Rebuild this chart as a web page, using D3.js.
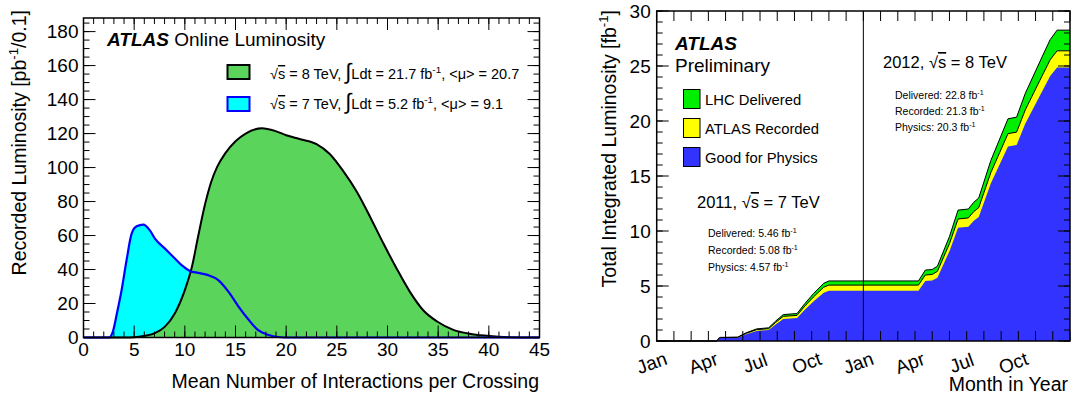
<!DOCTYPE html>
<html>
<head>
<meta charset="utf-8">
<script src="https://cdn.jsdelivr.net/npm/d3@7"></script>
<style>
  body { margin: 0; background: #fff; }
  svg { font-family: "Liberation Sans", Arial, Helvetica, sans-serif; }
</style>
</head>
<body>
<script>
// ---- left panel: recorded luminosity vs <mu> ----
var mu8  = [0, 4.5, 5.5, 6.06, 7.05, 8.04, 9.02, 10.0, 10.7, 11.3, 12.0, 12.6, 13.2, 14.0, 15.0, 16.0, 17.6, 18.9, 20.0, 21.4, 23.0, 24.3, 25.6, 27.0, 28.3, 29.6, 30.9, 32.2, 33.5, 34.9, 36.5, 38.1, 39.8, 42, 45];
var lum8 = [0, 0, 0.4, 1, 2.6, 6.4, 14.3, 27.9, 41.6, 59.1, 78.5, 91.5, 100.5, 108.5, 115.5, 120, 123.2, 121.6, 119, 116.7, 113.8, 108, 98.2, 85.5, 70.8, 55.3, 40.6, 27, 16.2, 9.4, 4.5, 2.2, 1, 0.2, 0];
var mu7  = [0, 2.5, 2.9, 3.3, 3.76, 4.25, 4.75, 5.24, 5.9, 6.55, 7.05, 8.04, 9.02, 9.68, 10.5, 11.3, 12.3, 13.3, 14.3, 15.3, 16.3, 17.2, 18.2, 19.2, 20.5, 45];
var lum7 = [0, 0, 3.5, 14.3, 27.9, 45.5, 61.1, 65.4, 66.4, 63, 58.2, 52.3, 46.5, 42.6, 39.2, 38, 36.7, 33.8, 27, 18.2, 10.4, 4.5, 1.6, 0.3, 0, 0];
var muTicks  = [0, 5, 10, 15, 20, 25, 30, 35, 40, 45];
var lumTicks = [0, 20, 40, 60, 80, 100, 120, 140, 160, 180];

// ---- right panel: cumulative luminosity, months since Jan 2011 ----
var months    = [0, 3.5, 3.6, 3.7, 4.7, 5.2, 5.8, 6.5, 6.9, 7.35, 8.15, 8.6, 9.1, 9.7, 10.0, 15.2, 15.6, 16.0, 16.3, 17.0, 17.5, 18.1, 18.4, 18.7, 19.4, 20.4, 20.9, 21.4, 22.4, 22.85, 23.25, 24];
var delivered = [0, 0, 0.25, 0.33, 0.35, 0.75, 1.1, 1.2, 1.8, 2.4, 2.5, 3.4, 4.3, 5.25, 5.46, 5.46, 6.45, 6.5, 6.8, 9.5, 11.9, 12.0, 12.6, 13.0, 16.4, 20.2, 20.35, 22.5, 25.9, 27.4, 28.26, 28.26];
var recorded  = [0, 0, 0.23, 0.31, 0.33, 0.7, 1.03, 1.12, 1.68, 2.24, 2.33, 3.17, 4.0, 4.89, 5.08, 5.08, 6.0, 6.05, 6.33, 8.85, 11.09, 11.19, 11.75, 12.12, 15.3, 18.85, 18.99, 21.0, 24.17, 25.57, 26.38, 26.38];
var physics   = [0, 0, 0.2, 0.27, 0.29, 0.62, 0.92, 1.0, 1.5, 2.0, 2.09, 2.84, 3.6, 4.39, 4.57, 4.57, 5.45, 5.5, 5.76, 8.17, 10.3, 10.39, 10.92, 11.28, 14.31, 17.69, 17.82, 19.74, 22.76, 24.1, 24.87, 24.87];
var monthLabels = ["Jan", "Apr", "Jul", "Oct", "Jan", "Apr", "Jul", "Oct"];
var monthLabelPos = [0, 3, 6, 9, 12, 15, 18, 21];
var intTicks = [0, 5, 10, 15, 20, 25, 30];

var svg = d3.select("body").append("svg")
	.attr("width", 1073)
	.attr("height", 398);

// rich text helper: parts = [{t, sup, fs, style, over}]
function rich(sel, x, y, parts, size, anchor) {
	var t = sel.append("text")
		.attr("x", x).attr("y", y)
		.attr("font-size", size)
		.attr("text-anchor", anchor || "start");
	var shift = 0;
	parts.forEach(function(p) {
		var ts = t.append("tspan").text(p.t);
		var target = p.sup ? -size * 0.42 : 0;
		if (target !== shift) { ts.attr("dy", target - shift); shift = target; }
		if (p.sup) ts.attr("font-size", size * 0.68);
		if (p.fs) ts.attr("font-size", p.fs);
		if (p.style) ts.attr("style", p.style);
		if (p.over) ts.style("text-decoration", "overline");
	});
	return t;
}

// ROOT-like frame with ticks on all four sides
function ticksAll(g, scale, vals, len, orient, w, h) {
	vals.forEach(function(v) {
		var p = scale(v);
		if (orient === "x") {
			g.append("line").attr("x1", p).attr("x2", p).attr("y1", h).attr("y2", h - len);
			g.append("line").attr("x1", p).attr("x2", p).attr("y1", 0).attr("y2", len);
		} else {
			g.append("line").attr("y1", p).attr("y2", p).attr("x1", 0).attr("x2", len);
			g.append("line").attr("y1", p).attr("y2", p).attr("x1", w).attr("x2", w - len);
		}
	});
}

// ================= LEFT =================
var L = { left: 83.5, top: 18, width: 456, height: 319.5 };
var gl = svg.append("g").attr("transform", "translate(" + L.left + "," + L.top + ")");
var xL = d3.scaleLinear().domain([0, 45]).range([0, L.width]);
var yL = d3.scaleLinear().domain([0, 188]).range([L.height, 0]);

var d8 = mu8.map(function(m, i) { return [m, lum8[i]]; });
var d7 = mu7.map(function(m, i) { return [m, lum7[i]]; });

var areaL = d3.area().curve(d3.curveMonotoneX)
	.x(function(d) { return xL(d[0]); })
	.y0(yL(0))
	.y1(function(d) { return yL(d[1]); });
var lineL = d3.line().curve(d3.curveMonotoneX)
	.x(function(d) { return xL(d[0]); })
	.y(function(d) { return yL(d[1]); });

gl.append("path").attr("d", areaL(d7)).attr("fill", "#00ffff");
gl.append("path").attr("d", areaL(d8)).attr("fill", "#5ad45a");
gl.append("path").attr("d", lineL(d8)).attr("fill", "none").attr("stroke", "#000").attr("stroke-width", 2);
gl.append("path").attr("d", lineL(d7)).attr("fill", "none").attr("stroke", "#0000ff").attr("stroke-width", 2.2);

var tkL = gl.append("g").attr("stroke", "#000").attr("stroke-width", 1);
ticksAll(tkL, xL, d3.range(0, 46, 1), 6, "x", L.width, L.height);
ticksAll(tkL, xL, muTicks, 12, "x", L.width, L.height);
ticksAll(tkL, yL, d3.range(0, 188, 5), 6, "y", L.width, L.height);
ticksAll(tkL, yL, lumTicks, 12, "y", L.width, L.height);
gl.append("rect").attr("width", L.width).attr("height", L.height)
	.attr("fill", "none").attr("stroke", "#000").attr("stroke-width", 1.5);

gl.selectAll(".xl").data(muTicks).enter().append("text")
	.attr("x", function(d) { return xL(d); }).attr("y", L.height + 18)
	.attr("text-anchor", "middle").attr("font-size", 19).text(function(d) { return d; });
gl.selectAll(".yl").data(lumTicks).enter().append("text")
	.attr("x", -5).attr("y", function(d) { return yL(d) + 6.5; })
	.attr("text-anchor", "end").attr("font-size", 19).text(function(d) { return d; });

rich(svg, 539, 388, [{ t: "Mean Number of Interactions per Crossing" }], 19.5, "end");
rich(svg.append("g").attr("transform", "translate(26,10) rotate(-90)"), 0, 0,
	[{ t: "Recorded Luminosity [pb" }, { t: "-1", sup: true }, { t: "/0.1]" }], 19.5, "end");

rich(svg, 107, 46, [{ t: "ATLAS", style: "font-weight:bold;font-style:italic" }, { t: " Online Luminosity" }], 19);

gl.append("rect").attr("x", xL(0) + 144).attr("y", 47).attr("width", 22).attr("height", 14)
	.attr("fill", "#5ad45a").attr("stroke", "#000").attr("stroke-width", 2);
gl.append("rect").attr("x", xL(0) + 144).attr("y", 79).attr("width", 22).attr("height", 14)
	.attr("fill", "#00ffff").attr("stroke", "#0000ff").attr("stroke-width", 2);
rich(svg, 270, 79, [{ t: "√" }, { t: "s", over: true }, { t: " = 8 TeV, " }, { t: "∫", fs: 22 }, { t: "Ldt = 21.7 fb" }, { t: "-1", sup: true }, { t: ", <μ> = 20.7" }], 14.5);
rich(svg, 270, 109, [{ t: "√" }, { t: "s", over: true }, { t: " = 7 TeV, " }, { t: "∫", fs: 22 }, { t: "Ldt = 5.2 fb" }, { t: "-1", sup: true }, { t: ", <μ> =  9.1" }], 14.5);

// ================= RIGHT =================
var R = { left: 656.7, top: 11, width: 413.3, height: 330 };
var gr = svg.append("g").attr("transform", "translate(" + R.left + "," + R.top + ")");
var xR = d3.scaleLinear().domain([0, 24]).range([0, R.width]);
var yR = d3.scaleLinear().domain([0, 30]).range([R.height, 0]);

function series(vals) { return months.map(function(m, i) { return [m, vals[i]]; }); }
var areaR = d3.area()
	.x(function(d) { return xR(d[0]); })
	.y0(yR(0))
	.y1(function(d) { return yR(d[1]); });
var lineR = d3.line()
	.x(function(d) { return xR(d[0]); })
	.y(function(d) { return yR(d[1]); });

gr.append("path").attr("d", areaR(series(delivered))).attr("fill", "#00ee00");
gr.append("path").attr("d", areaR(series(recorded))).attr("fill", "#ffff00");
gr.append("path").attr("d", areaR(series(physics))).attr("fill", "#3333ff");
gr.append("path").attr("d", lineR(series(delivered))).attr("fill", "none").attr("stroke", "#000").attr("stroke-width", 1);
gr.append("path").attr("d", lineR(series(recorded))).attr("fill", "none").attr("stroke", "#000").attr("stroke-width", 1);

var tkR = gr.append("g").attr("stroke", "#000").attr("stroke-width", 1);
ticksAll(tkR, xR, d3.range(0, 25, 1), 10, "x", R.width, R.height);
ticksAll(tkR, yR, d3.range(0, 31, 1), 6, "y", R.width, R.height);
ticksAll(tkR, yR, intTicks, 12, "y", R.width, R.height);
gr.append("line").attr("x1", xR(12)).attr("x2", xR(12)).attr("y1", 0).attr("y2", R.height)
	.attr("stroke", "#000").attr("stroke-width", 1);
gr.append("rect").attr("width", R.width).attr("height", R.height)
	.attr("fill", "none").attr("stroke", "#000").attr("stroke-width", 1.5);

gr.selectAll(".xr").data(monthLabelPos).enter().append("text")
	.attr("transform", function(d) { return "translate(" + (xR(d) - 5) + "," + (R.height + 22) + ") rotate(-20)"; })
	.attr("text-anchor", "middle").attr("dominant-baseline", "central")
	.attr("font-size", 19).text(function(d, i) { return monthLabels[i]; });
gr.selectAll(".yr").data(intTicks).enter().append("text")
	.attr("x", -6).attr("y", function(d) { return yR(d) + 6.5; })
	.attr("text-anchor", "end").attr("font-size", 19).text(function(d) { return d; });

rich(svg, 1068, 391, [{ t: "Month in Year" }], 19.5, "end");
rich(svg.append("g").attr("transform", "translate(616,10) rotate(-90)"), 0, 0,
	[{ t: "Total Integrated Luminosity  [fb" }, { t: "-1", sup: true }, { t: "]" }], 19.5, "end");

rich(svg, 675, 50, [{ t: "ATLAS", style: "font-weight:bold;font-style:italic" }], 19);
rich(svg, 675, 72, [{ t: "Preliminary" }], 19);

var legR = [["LHC Delivered", "#00ee00"], ["ATLAS Recorded", "#ffff00"], ["Good for Physics", "#3333ff"]];
legR.forEach(function(d, i) {
	svg.append("rect").attr("x", 683.5).attr("y", 89.5 + i * 29).attr("width", 16.5).attr("height", 19)
		.attr("fill", d[1]).attr("stroke", "#000").attr("stroke-width", 1);
	rich(svg, 705, 105 + i * 29, [{ t: d[0] }], 14.8);
});

rich(svg, 883, 68, [{ t: "2012, " }, { t: "√" }, { t: "s", over: true }, { t: " = 8 TeV" }], 16.5);
rich(svg, 895, 99, [{ t: "Delivered: 22.8 fb" }, { t: "-1", sup: true }], 10.5);
rich(svg, 895, 115, [{ t: "Recorded: 21.3 fb" }, { t: "-1", sup: true }], 10.5);
rich(svg, 895, 131, [{ t: "Physics: 20.3 fb" }, { t: "-1", sup: true }], 10.5);

rich(svg, 697, 208, [{ t: "2011, " }, { t: "√" }, { t: "s", over: true }, { t: " = 7 TeV" }], 16.5);
rich(svg, 708, 237, [{ t: "Delivered: 5.46 fb" }, { t: "-1", sup: true }], 10.5);
rich(svg, 708, 254, [{ t: "Recorded: 5.08 fb" }, { t: "-1", sup: true }], 10.5);
rich(svg, 708, 271, [{ t: "Physics: 4.57 fb" }, { t: "-1", sup: true }], 10.5);
</script>
</body>
</html>
